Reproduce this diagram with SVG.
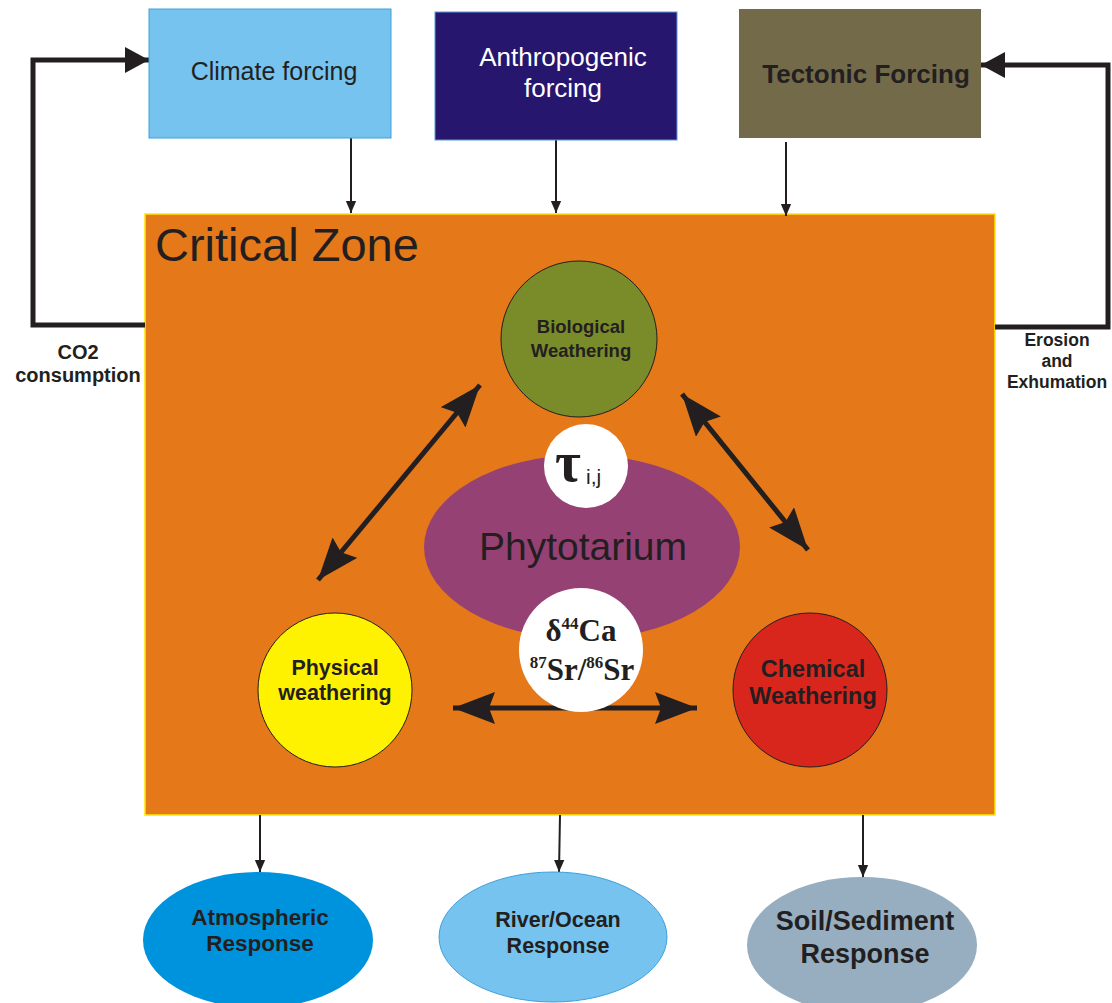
<svg xmlns="http://www.w3.org/2000/svg" width="1112" height="1003" viewBox="0 0 1112 1003">
<style>
.sans{font-family:"Liberation Sans",Arial,sans-serif;fill:#231F20}
.b{font-weight:bold}
.serif{font-family:"Liberation Serif","Times New Roman",serif;font-weight:bold;fill:#231F20}
.thin{stroke:#231F20;stroke-width:2;fill:none}
.thick{stroke:#231F20;stroke-width:5;fill:none}
.dbl{stroke:#231F20;stroke-width:5;fill:none}
</style>
<defs>
<marker id="small" markerUnits="userSpaceOnUse" markerWidth="12" markerHeight="14" refX="14" refY="6" orient="auto" viewBox="0 0 14 12">
<path d="M0,0 L14,6 L0,12 z" fill="#231F20"/>
</marker>
<marker id="fb" markerUnits="userSpaceOnUse" markerWidth="24" markerHeight="26" refX="24" refY="13" orient="auto" viewBox="0 0 24 26">
<path d="M0,0 L24,13 L0,26 z" fill="#231F20"/>
</marker>
<marker id="big" markerUnits="userSpaceOnUse" markerWidth="42" markerHeight="32" refX="42" refY="16" orient="auto-start-reverse" viewBox="0 0 42 32">
<path d="M0,0 L42,16 L0,32 L6,16 z" fill="#231F20"/>
</marker>
</defs>
<rect width="1112" height="1003" fill="#FFFFFF"/>

<g id="critical-zone">
<rect x="145" y="214" width="850" height="601" fill="#E57818" stroke="#FFE600" stroke-width="1.5"/>
<text x="155" y="261" class="sans" font-size="47">Critical Zone</text>
</g>

<g id="connectors">
<line x1="351" y1="138" x2="351" y2="213" class="thin" marker-end="url(#small)"/>
<line x1="556" y1="140" x2="556" y2="213" class="thin" marker-end="url(#small)"/>
<line x1="786" y1="142" x2="786" y2="216" class="thin" marker-end="url(#small)"/>
<polyline points="145,325 33,325 33,60 149,60" class="thick" marker-end="url(#fb)"/>
<polyline points="995,327 1108,327 1108,65 981,65" class="thick" marker-end="url(#fb)"/>
<line x1="260" y1="815" x2="260" y2="872" class="thin" marker-end="url(#small)"/>
<line x1="560" y1="815" x2="559" y2="872" class="thin" marker-end="url(#small)"/>
<line x1="863" y1="815" x2="863" y2="877" class="thin" marker-end="url(#small)"/>
<line x1="453" y1="708" x2="697" y2="708" class="dbl" marker-start="url(#big)" marker-end="url(#big)"/>
<line x1="480" y1="385" x2="318" y2="580" class="dbl" marker-start="url(#big)" marker-end="url(#big)"/>
<line x1="682" y1="394" x2="808" y2="550" class="dbl" marker-start="url(#big)" marker-end="url(#big)"/>
</g>

<g id="label-co2">
<text x="78" y="359" class="sans b" font-size="20" text-anchor="middle">CO2</text>
<text x="78" y="382" class="sans b" font-size="20" text-anchor="middle">consumption</text>
</g>
<g id="label-erosion">
<text x="1057" y="346" class="sans b" font-size="17.5" text-anchor="middle">Erosion</text>
<text x="1057" y="367" class="sans b" font-size="17.5" text-anchor="middle">and</text>
<text x="1057" y="388" class="sans b" font-size="17.5" text-anchor="middle">Exhumation</text>
</g>

<g id="climate-forcing">
<rect x="149" y="9" width="242" height="129" fill="#75C3EE" stroke="#3FA0DC" stroke-width="1"/>
<text x="274" y="80" class="sans" font-size="25" text-anchor="middle">Climate forcing</text>
</g>
<g id="anthropogenic-forcing">
<rect x="435" y="12" width="242" height="128" fill="#27166E" stroke="#5B9BD5" stroke-width="1"/>
<text x="563" y="66" class="sans" font-size="26" text-anchor="middle" style="fill:#FFFFFF">Anthropogenic</text>
<text x="563" y="97" class="sans" font-size="26" text-anchor="middle" style="fill:#FFFFFF">forcing</text>
</g>
<g id="tectonic-forcing">
<rect x="739" y="9" width="242" height="129" fill="#736A4A"/>
<text x="866" y="83" class="sans b" font-size="26" text-anchor="middle">Tectonic Forcing</text>
</g>

<g id="phytotarium">
<ellipse cx="582" cy="547" rx="158" ry="92" fill="#964174"/>
<text x="583" y="560" class="sans" font-size="39" text-anchor="middle">Phytotarium</text>
</g>
<g id="tau">
<circle cx="586" cy="466" r="42" fill="#FFFFFF"/>
<text x="568" y="481" class="serif" font-size="56" text-anchor="middle">τ</text>
<text x="586" y="484" class="sans" font-size="21">i,j</text>
</g>
<g id="isotopes">
<circle cx="581" cy="650" r="62" fill="#FFFFFF"/>
<text x="581" y="641" class="serif" font-size="31" text-anchor="middle">δ<tspan font-size="17" dy="-12">44</tspan><tspan dy="12">Ca</tspan></text>
<text x="582" y="680" class="serif" font-size="31" text-anchor="middle"><tspan font-size="17" dy="-12">87</tspan><tspan dy="12">Sr/</tspan><tspan font-size="17" dy="-12">86</tspan><tspan dy="12">Sr</tspan></text>
</g>

<g id="biological-weathering">
<circle cx="579" cy="339" r="78" fill="#7A8B2A" stroke="#231F20" stroke-width="1"/>
<text x="581" y="333" class="sans b" font-size="18.5" text-anchor="middle">Biological</text>
<text x="581" y="357" class="sans b" font-size="18.5" text-anchor="middle">Weathering</text>
</g>
<g id="physical-weathering">
<circle cx="335" cy="690" r="77" fill="#FFF200" stroke="#231F20" stroke-width="1"/>
<text x="335" y="675" class="sans b" font-size="21.5" text-anchor="middle">Physical</text>
<text x="335" y="700" class="sans b" font-size="21.5" text-anchor="middle">weathering</text>
</g>
<g id="chemical-weathering">
<circle cx="810" cy="690" r="77" fill="#D9261C" stroke="#231F20" stroke-width="1"/>
<text x="813" y="677" class="sans b" font-size="23.5" text-anchor="middle">Chemical</text>
<text x="813" y="704" class="sans b" font-size="23.5" text-anchor="middle">Weathering</text>
</g>

<g id="atmospheric-response">
<ellipse cx="258" cy="940" rx="115" ry="68" fill="#0093DD"/>
<text x="260" y="925" class="sans b" font-size="22.5" text-anchor="middle">Atmospheric</text>
<text x="260" y="951" class="sans b" font-size="22.5" text-anchor="middle">Response</text>
</g>
<g id="river-ocean-response">
<ellipse cx="553" cy="937" rx="114" ry="65" fill="#75C3EE" stroke="#3FA0DC" stroke-width="1"/>
<text x="558" y="927" class="sans b" font-size="21.5" text-anchor="middle">River/Ocean</text>
<text x="558" y="953" class="sans b" font-size="21.5" text-anchor="middle">Response</text>
</g>
<g id="soil-sediment-response">
<ellipse cx="862" cy="945" rx="115" ry="68" fill="#97AEC0"/>
<text x="865" y="930" class="sans b" font-size="27" text-anchor="middle">Soil/Sediment</text>
<text x="865" y="963" class="sans b" font-size="27" text-anchor="middle">Response</text>
</g>
</svg>
